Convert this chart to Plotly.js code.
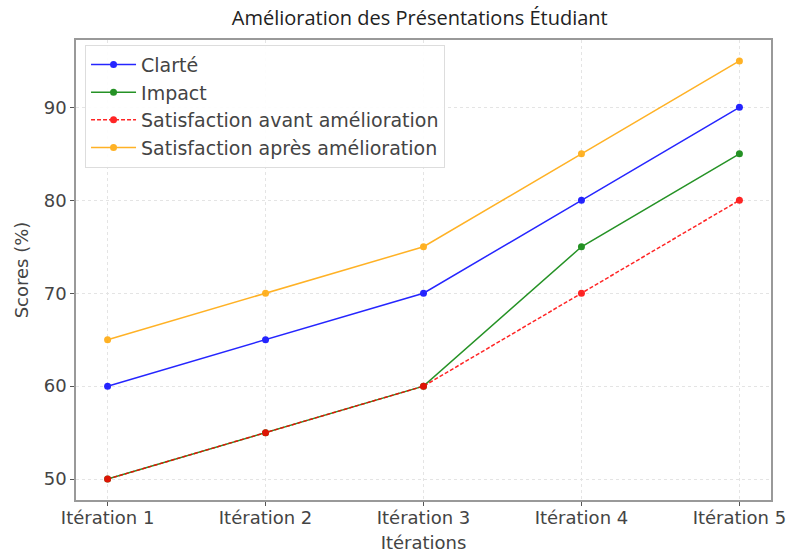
<!DOCTYPE html>
<html><head><meta charset="utf-8">
<script src="https://cdn.plot.ly/plotly-3.0.1.min.js"></script>
<style>body{margin:0;background:#fff}#c{width:792px;height:554px}</style>
</head><body><div id="c"></div>
<script>
const iterations = ["Itération 1","Itération 2","Itération 3","Itération 4","Itération 5"];
const clarte = [60,65,70,80,90];
const impact = [50,55,60,75,85];
const satAvant = [50,55,60,70,80];
const satApres = [65,70,75,85,95];
const yTicks = [50,60,70,80,90];

const F = "'DejaVu Sans', sans-serif";
function tr(name, y, color, dash){
  return {x: iterations.map((_,i)=>i), y: y, name: name, legendgroup:name, type:'scatter', mode:'lines+markers',
    line:{color:color, width:1.5, dash:dash||'solid'}, marker:{color:color, size:7}, opacity:0.85};
}
const data = [
  tr("Clarté", clarte, "#0000ff"),
  tr("Impact", impact, "#008000"),
  tr("Satisfaction avant amélioration", satAvant, "#ff0000", "4px,2px"),
  tr("Satisfaction après amélioration", satApres, "#ffa500")
];
const layout = {
  width:792, height:554, paper_bgcolor:'#fff', plot_bgcolor:'#fff',
  margin:{l:76, r:21, t:40, b:54},
  font:{family:F, color:'#444', size:17},
  title:{text:"Amélioration des Présentations Étudiant", x:0.53, xanchor:'center', y:0.967, yanchor:'middle', font:{size:20, color:'#222', family:"'Open Sans', sans-serif"}},
  showlegend:true,
  legend:{x:0.013, y:0.99, xanchor:'left', yanchor:'top', traceorder:'grouped', tracegroupgap:0, itemwidth:45, bgcolor:'rgba(255,255,255,0.9)', bordercolor:'#ddd', borderwidth:1, font:{size:19, color:'#444'}},
  xaxis:{range:[-0.2,4.2], tickvals:iterations.map((_,i)=>i), ticktext:iterations, showgrid:true, gridcolor:'#e4e4e4', griddash:'dot', zeroline:false,
    showline:true, linecolor:'#999', linewidth:1.5, mirror:true, ticks:'outside', ticklen:4, tickcolor:'#555', tickfont:{size:18}, ticklabelstandoff:-3,
    title:{text:"Itérations", font:{size:18}, standoff:9}},
  yaxis:{range:[47.75,97.25], tickvals:yTicks, showgrid:true, gridcolor:'#e4e4e4', griddash:'dot', zeroline:false,
    showline:true, linecolor:'#999', linewidth:1.5, mirror:true, ticks:'outside', ticklen:4, tickcolor:'#555', tickfont:{size:18},
    title:{text:"Scores (%)", font:{size:18}, standoff:10}}
};
Plotly.newPlot('c', data, layout, {displayModeBar:false});
</script></body></html>
